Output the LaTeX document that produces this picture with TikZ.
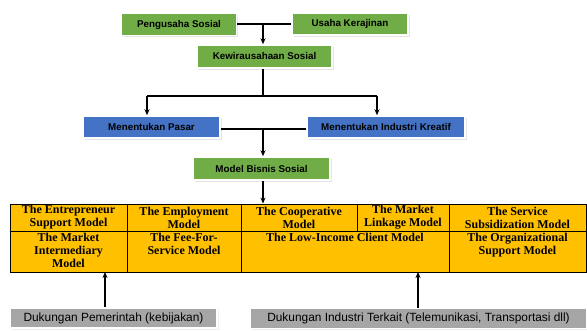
\documentclass[tikz,border=0pt]{standalone}
\usepackage{fontspec}
\setmainfont{Liberation Serif}
\setsansfont{Liberation Sans}
\usetikzlibrary{arrows.meta,shadows}
\definecolor{hijau}{HTML}{70AD47}
\definecolor{biru}{HTML}{4472C4}
\definecolor{abu}{HTML}{A6A6A6}
\definecolor{kuning}{HTML}{FFC000}

\begin{document}
\begin{tikzpicture}[x=1pt,y=-1pt]
\useasboundingbox (0,0) rectangle (587,331);
\begin{scope}[every node/.style={rectangle,draw=white,line width=1.5pt,fill=hijau,
              minimum height=22pt,inner sep=0pt,font=\sffamily\bfseries\fontsize{9.8}{10}\selectfont,
              drop shadow={shadow xshift=1.8pt,shadow yshift=-1.8pt,fill=black!20}}]
    \node (pengusaha) [minimum width=115pt] at (179,24.5) {Pengusaha Sosial};
    \node (usaha) [minimum width=116pt] at (350,24) {Usaha Kerajinan};
    \node (kewira) [minimum width=135pt,minimum height=23pt] at (264.5,56.5) {Kewirausahaan Sosial};
    \node (model) [minimum width=137pt,minimum height=23pt] at (261.5,168.5) {Model Bisnis Sosial};
\end{scope}
\begin{scope}[every node/.style={rectangle,draw=white,line width=1.5pt,fill=biru,
              minimum height=22pt,inner sep=0pt,font=\sffamily\bfseries\fontsize{9.8}{10}\selectfont,
              drop shadow={shadow xshift=1.8pt,shadow yshift=-1.8pt,fill=black!20}}]
    \node (pasar) [minimum width=137pt] at (151.5,127) {Menentukan Pasar};
    \node (industri) [minimum width=158pt] at (386,127) {Menentukan Industri Kreatif};
\end{scope}
\begin{scope}[every node/.style={rectangle,draw=white,line width=1.5pt,fill=abu,
              minimum height=20pt,inner sep=0pt,font=\sffamily\fontsize{11.9}{12}\selectfont,
              drop shadow={shadow xshift=1.8pt,shadow yshift=-1.8pt,fill=black!12}}]
    \node (pemerintah) [minimum width=207pt] at (113.5,318) {Dukungan Pemerintah (kebijakan)};
    \node (terkait) [minimum width=337pt] at (418.5,318.5) {Dukungan Industri Terkait (Telemunikasi, Transportasi dll)};
\end{scope}
% tabel model bisnis
\node (tabel) [rectangle,draw=black,line width=0.8pt,fill=kuning,minimum width=576pt,
               minimum height=68pt,inner sep=0pt] at (298,238) {};
\draw [line width=0.8pt] (tabel.west |- 0,231) -- (tabel.east |- 0,231);
\foreach \x in {127,241,449}
    \draw [line width=0.8pt] (\x,204) -- (\x,272);
\draw [line width=0.8pt] (357,204) -- (357,231);
\begin{scope}[every node/.style={align=center,inner sep=0pt,font=\bfseries\fontsize{12}{13}\selectfont}]
    \node (t11) at (68.5,217.5) {The Entrepreneur\\Support Model};
    \node (t12) at (184,217.5) {The Employment\\Model};
    \node (t13) at (299,217.5) {The Cooperative\\Model};
    \node (t14) at (403,217.5) {The Market\\Linkage Model};
    \node (t15) at (517.5,217.5) {The Service\\Subsidization Model};
    \node (t21) [anchor=north] at (68.5,232.5) {The Market\\Intermediary\\Model};
    \node (t22) [anchor=north] at (184,232.5) {The Fee-For-\\Service Model};
    \node (t23) [anchor=north] at (345,232.5) {The Low-Income Client Model};
    \node (t24) [anchor=north] at (517.5,232.5) {The Organizational\\Support Model};
\end{scope}
% titik cabang
\coordinate (j1) at (263,24);
\coordinate (j2) at (263,96);
\coordinate (j2l) at (147,96);
\coordinate (j2r) at (377,96);
\coordinate (j3) at (263,129);
\coordinate (b1) at (105,272);
\coordinate (b2) at (418,272);
\begin{scope}[>={Stealth[black,length=6pt,width=5pt]},
              every edge/.style={draw=black,line width=1.6pt}]
    \path [-] (pengusaha.east |- j1) edge (usaha.west |- j1);
    \path [->] (j1) edge (kewira.north -| j1);
    \path [-] (kewira.south -| j2) edge (j2);
    \draw [line width=1.6pt] (j2l) -- (j2r);
    \path [->] (j2l) edge (j2l |- pasar.north);
    \path [->] (j2r) edge (j2r |- industri.north);
    \path [-] (pasar.east |- j3) edge (industri.west |- j3);
    \path [->] (j3) edge (model.north -| j3);
    \path [->] (model.south -| j3) edge (tabel.north -| j3);
    \path [->] (pemerintah.north -| b1) edge (b1);
    \path [->] (terkait.north -| b2) edge (b2);
\end{scope}
\end{tikzpicture}
\end{document}
